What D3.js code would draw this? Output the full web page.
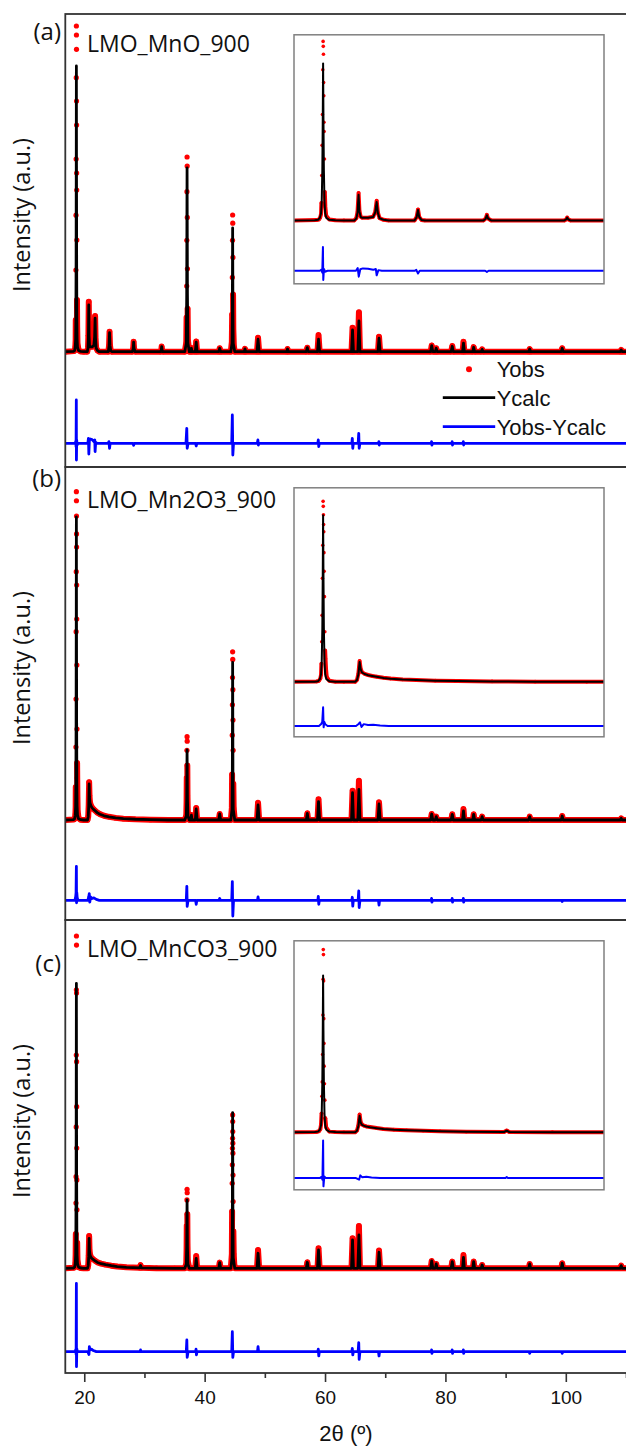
<!DOCTYPE html>
<html>
<head>
<meta charset="utf-8">
<script src="https://cdn.jsdelivr.net/npm/d3@7"></script>
<style>
  body { margin: 0; background: #fff; }
  svg { display: block; }
</style>
</head>
<body>
<svg id="chart" width="626" height="1446"></svg>
<script>
// ---------- Axis / label text ----------
const xTicks = [20, 40, 60, 80, 100];
const xMinorTicks = [30, 50, 70, 90, 110];
const panelTags = ["(a)", "(b)", "(c)"];
const sampleNames = ["LMO_MnO_900", "LMO_Mn2O3_900", "LMO_MnCO3_900"];
const legendLabels = ["Yobs", "Ycalc", "Yobs-Ycalc"];

// ---------- Intensity ranges and difference-curve offsets (counts) ----------
const intensityRangeA = [-4036, 11820];
const intensityRangeB = [-3300, 11650];
const intensityRangeC = [-3674, 12221];
const diffOffsetA = -3206;
const diffOffsetB = -2650;
const diffOffsetC = -2926;

// ---------- (a) LMO_MnO_900 : [2theta, intensity] ----------
const obsA = [
  [16.85,0],[18.3,20],[18.45,60],[18.52,180],[18.57,410],[18.59,1110],[18.61,2860],[18.63,4780],[18.65,6745],[18.67,9590],[18.69,11400],
  [18.7,11085],[18.71,10584],[18.72,8775],[18.73,7935],[18.74,6255],[18.75,5660],[18.77,3910],[18.79,1810],[18.82,860],[18.87,300],[19.05,60],[19.4,10],[19.9,0],
  [20.5,0],[20.62,140],[20.69,560],[20.75,1750],[20.8,600],[20.87,240],[20.95,170],[21.3,170],[21.6,230],[21.72,560],[21.8,1250],[21.87,500],[21.97,140],[22.2,40],[22.5,0],
  [24.0,0],[24.12,210],[24.2,700],[24.27,230],[24.4,30],[24.6,0],
  [28.0,0],[28.13,120],[28.2,350],[28.27,120],[28.45,0],
  [32.7,0],[32.8,60],[32.86,180],[32.93,60],[33.05,0],
  [36.7,0],[36.95,320],[37.0,1200],[37.02,2300],[37.04,3900],[37.06,5600],[37.08,6815],[37.1,6500],[37.12,4700],[37.14,2900],[37.17,1500],[37.22,400],[37.45,0],
  [37.7,0],[37.8,130],[37.9,0],
  [38.45,0],[38.6,360],[38.75,0],
  [42.35,0],[42.5,120],[42.65,0],
  [44.35,0],[44.52,350],[44.57,1300],[44.6,2600],[44.63,3900],[44.65,4785],[44.67,4500],[44.7,3300],[44.72,2000],[44.76,800],[44.85,200],[45.0,0],
  [46.6,0],[46.7,100],[46.8,0],
  [48.7,0],[48.87,490],[49.05,0],
  [53.65,0],[53.77,95],[53.9,0],
  [56.9,0],[57.06,140],[57.2,0],
  [58.75,0],[58.92,585],[59.1,0],
  [64.4,0],[64.57,840],[64.72,0],
  [65.45,0],[65.63,1380],[65.8,0],
  [68.8,0],[68.97,525],[69.15,0],
  [77.55,0],[77.72,220],[77.9,0],[78.32,0],[78.47,120],[78.62,0],
  [80.95,0],[81.14,200],[81.3,0],
  [82.85,0],[83.0,350],[83.15,0],
  [84.55,0],[84.69,160],[84.85,0],
  [85.95,0],[86.1,80],[86.25,0],
  [93.85,0],[94.0,95],[94.15,0],
  [99.25,0],[99.4,120],[99.55,0],
  [109.05,0],[109.2,60],[109.35,0],[110,0]
];
const calcA = [
  [16.85,0],[18.2,10],[18.4,40],[18.5,160],[18.57,450],[18.61,1200],[18.645,3200],[18.67,6500],[18.69,10000],[18.71,6500],[18.735,3200],[18.77,1200],[18.81,450],[18.88,160],[19.05,40],[19.4,10],[19.9,0],
  [20.5,0],[20.62,120],[20.69,500],[20.75,1635],[20.8,560],[20.87,230],[20.95,170],[21.3,170],[21.6,220],[21.72,520],[21.8,1170],[21.87,480],[21.97,130],[22.2,40],[22.5,0],
  [24.0,0],[24.12,200],[24.2,665],[24.27,220],[24.4,30],[24.6,0],
  [28.0,0],[28.13,110],[28.2,330],[28.27,110],[28.45,0],
  [32.7,0],[32.8,60],[32.86,175],[32.93,60],[33.05,0],
  [36.7,0],[36.95,300],[37.02,2000],[37.08,6430],[37.14,2000],[37.22,300],[37.45,0],
  [37.7,0],[37.8,120],[37.9,0],
  [38.45,0],[38.6,330],[38.75,0],
  [42.35,0],[42.5,120],[42.65,0],
  [44.35,0],[44.55,300],[44.6,1400],[44.65,4330],[44.7,1400],[44.75,300],[45.0,0],
  [46.6,0],[46.7,100],[46.8,0],
  [48.7,0],[48.87,435],[49.05,0],
  [53.65,0],[53.77,95],[53.9,0],
  [56.9,0],[57.06,140],[57.2,0],
  [58.75,0],[58.92,435],[59.1,0],
  [64.4,0],[64.57,760],[64.72,0],
  [65.45,0],[65.63,1075],[65.8,0],
  [68.8,0],[68.97,470],[69.15,0],
  [77.55,0],[77.72,210],[77.9,0],[78.32,0],[78.47,120],[78.62,0],
  [80.95,0],[81.14,190],[81.3,0],
  [82.85,0],[83.0,295],[83.15,0],
  [84.55,0],[84.69,155],[84.85,0],
  [85.95,0],[86.1,80],[86.25,0],
  [93.85,0],[94.0,95],[94.15,0],
  [99.25,0],[99.4,120],[99.55,0],
  [109.05,0],[109.2,60],[109.35,0],[110,0]
];
const diffA = [
  [16.85,0],[18.5,0],[18.6,80],[18.64,-120],[18.68,1515],[18.7,-585],[18.74,120],[18.8,-60],[18.95,0],
  [20.6,0],[20.7,175],[20.76,-375],[20.85,100],[21.0,150],[21.3,130],[21.6,60],[21.75,115],[21.8,-290],[21.9,40],[22.1,0],
  [24.0,0],[24.1,60],[24.2,-175],[24.3,0],
  [28.1,0],[28.2,-70],[28.3,0],
  [36.9,0],[37.03,525],[37.1,-175],[37.25,0],
  [38.5,0],[38.6,-95],[38.7,0],
  [44.5,0],[44.6,990],[44.68,-410],[44.8,0],
  [48.75,0],[48.85,115],[48.92,-60],[49.0,0],
  [58.8,0],[58.88,115],[58.96,-115],[59.05,0],
  [64.45,0],[64.53,175],[64.61,-175],[64.7,0],
  [65.5,0],[65.6,350],[65.67,-175],[65.8,0],
  [68.9,0],[68.95,60],[69.0,-60],[69.1,0],
  [77.65,0],[77.7,60],[77.76,-60],[77.85,0],
  [81.08,0],[81.12,60],[81.18,-60],[81.25,0],
  [82.93,0],[82.98,60],[83.03,-60],[83.1,0],
  [110,0]
];

// ---------- (b) LMO_Mn2O3_900 ----------
const obsB = [
  [16.85,0],[18.3,20],[18.45,60],[18.53,200],[18.57,429],[18.59,1089],[18.61,2409],[18.63,3993],[18.65,6214],[18.67,8195],[18.69,10835],
  [18.7,10537],[18.71,10032],[18.72,9440],[18.73,9010],[18.74,7755],[18.75,6633],[18.77,5115],[18.79,3003],[18.81,1881],[18.83,1386],[18.86,759],[18.9,300],[19.05,60],[19.4,10],[19.9,0],
  [20.55,0],[20.66,120],[20.74,500],[20.81,1250],[20.87,790],[20.95,580],[21.1,480],[21.3,410],[21.55,355],[21.8,310],[22.2,240],[22.6,195],[23.3,140],[24.1,105],[25.2,70],[26.5,45],[28.5,25],[31,12],[34,0],
  [36.7,0],[36.95,150],[37.0,600],[37.03,1400],[37.06,2300],[37.08,2750],[37.1,2600],[37.12,1800],[37.15,800],[37.2,250],[37.45,0],
  [37.7,0],[37.8,165],[37.9,0],
  [38.45,0],[38.6,400],[38.75,0],
  [42.35,0],[42.5,200],[42.65,0],
  [44.35,0],[44.52,400],[44.56,1500],[44.59,2800],[44.61,3800],[44.63,4700],[44.65,5550],[44.67,5300],[44.69,4300],[44.71,3300],[44.73,2300],[44.76,1200],[44.82,400],[45.0,0],
  [48.7,0],[48.87,570],[49.05,0],
  [56.9,0],[57.06,220],[57.2,0],
  [58.75,0],[58.92,683],[59.1,0],
  [64.4,0],[64.57,967],[64.72,0],
  [65.45,0],[65.63,1297],[65.8,0],
  [68.8,0],[68.97,584],[69.15,0],
  [77.55,0],[77.72,200],[77.9,0],[78.32,0],[78.47,110],[78.62,0],
  [80.95,0],[81.14,190],[81.3,0],
  [82.85,0],[83.0,363],[83.15,0],
  [84.55,0],[84.69,190],[84.85,0],
  [85.95,0],[86.1,110],[86.25,0],
  [93.85,0],[94.0,110],[94.15,0],
  [99.25,0],[99.4,132],[99.55,0],
  [109.05,0],[109.2,56],[109.35,0],[110,0]
];
const calcB = [
  [16.85,0],[18.2,10],[18.4,40],[18.5,160],[18.57,450],[18.61,1200],[18.645,3200],[18.67,6500],[18.69,10000],[18.71,6500],[18.735,3200],[18.77,1200],[18.81,450],[18.88,160],[19.05,40],[19.4,10],[19.9,0],
  [20.55,0],[20.66,110],[20.74,450],[20.81,1190],[20.87,760],[20.95,560],[21.1,470],[21.3,400],[21.55,350],[21.8,305],[22.2,235],[22.6,190],[23.3,140],[24.1,105],[25.2,70],[26.5,45],[28.5,25],[31,12],[34,0],
  [36.7,0],[36.95,130],[37.02,700],[37.08,2310],[37.14,700],[37.22,130],[37.45,0],
  [37.7,0],[37.8,160],[37.9,0],
  [38.45,0],[38.6,363],[38.75,0],
  [42.35,0],[42.5,200],[42.65,0],
  [44.35,0],[44.55,350],[44.6,1600],[44.65,5200],[44.7,1600],[44.75,350],[45.0,0],
  [48.7,0],[48.87,495],[49.05,0],
  [56.9,0],[57.06,220],[57.2,0],
  [58.75,0],[58.92,605],[59.1,0],
  [64.4,0],[64.57,900],[64.72,0],
  [65.45,0],[65.63,1013],[65.8,0],
  [68.8,0],[68.97,528],[69.15,0],
  [77.55,0],[77.72,198],[77.9,0],[78.32,0],[78.47,110],[78.62,0],
  [80.95,0],[81.14,188],[81.3,0],
  [82.85,0],[83.0,297],[83.15,0],
  [84.55,0],[84.69,188],[84.85,0],
  [85.95,0],[86.1,110],[86.25,0],
  [93.85,0],[94.0,110],[94.15,0],
  [99.25,0],[99.4,132],[99.55,0],
  [109.05,0],[109.2,56],[109.35,0],[110,0]
];
const diffB = [
  [16.85,0],[18.45,0],[18.58,120],[18.64,250],[18.69,1120],[18.72,-80],[18.76,250],[18.82,100],[18.95,0],
  [20.6,0],[20.75,120],[20.83,220],[20.92,-60],[21.05,110],[21.3,60],[21.6,80],[22.0,30],[22.5,0],
  [36.95,0],[37.04,460],[37.1,-200],[37.25,0],
  [38.5,0],[38.6,-130],[38.7,0],
  [42.4,0],[42.5,60],[42.6,0],
  [44.5,0],[44.6,617],[44.68,-518],[44.8,0],
  [48.78,0],[48.87,110],[48.96,0],
  [58.8,0],[58.88,130],[58.96,-130],[59.05,0],
  [64.45,0],[64.53,100],[64.61,-190],[64.7,0],
  [65.5,0],[65.6,307],[65.67,-240],[65.8,0],
  [68.88,0],[68.97,-155],[69.06,0],
  [77.65,0],[77.7,60],[77.76,-60],[77.85,0],
  [81.08,0],[81.12,60],[81.18,-60],[81.25,0],
  [82.93,0],[82.98,60],[83.03,-60],[83.1,0],
  [99.32,0],[99.4,-40],[99.48,0],
  [110,0]
];

// ---------- (c) LMO_MnCO3_900 ----------
const obsC = [
  [16.85,0],[18.3,20],[18.45,60],[18.53,200],[18.57,500],[18.6,1200],[18.62,2290],[18.64,3215],[18.66,4960],[18.68,7480],[18.69,9770],[18.7,11660],
  [18.71,11340],[18.72,9660],[18.73,7250],[18.74,5670],[18.75,4220],[18.77,3100],[18.79,2050],[18.82,900],[18.87,300],[19.05,40],[19.4,10],[19.9,0],
  [20.55,0],[20.66,110],[20.74,450],[20.81,1134],[20.87,660],[20.95,490],[21.05,430],[21.2,370],[21.41,330],[21.8,265],[22.19,210],[22.8,165],[23.54,128],[24.5,92],[25.48,64],[27,36],[29.2,16],[29.35,110],[29.5,16],[32,5],[35,0],
  [36.7,0],[36.95,160],[37.0,650],[37.03,1500],[37.06,2400],[37.08,2773],[37.1,2650],[37.12,1900],[37.15,850],[37.2,260],[37.45,0],
  [38.45,0],[38.6,432],[38.75,0],
  [42.35,0],[42.5,200],[42.65,0],
  [44.35,0],[44.52,500],[44.56,1990],[44.58,2980],[44.6,3630],[44.62,4210],[44.64,4560],[44.65,5380],
  [44.66,5150],[44.67,4800],[44.68,4390],[44.69,4040],[44.71,3270],[44.73,2340],[44.77,1300],[44.83,500],[44.92,150],[45.05,0],
  [48.7,0],[48.87,642],[49.05,0],
  [56.9,0],[57.06,211],[57.2,0],
  [58.75,0],[58.92,702],[59.1,0],
  [64.4,0],[64.57,1053],[64.72,0],
  [65.45,0],[65.63,1485],[65.8,0],
  [68.8,0],[68.97,621],[69.15,0],
  [77.55,0],[77.72,256],[77.9,0],[78.32,0],[78.47,151],[78.62,0],
  [80.95,0],[81.14,235],[81.3,0],
  [82.85,0],[83.0,467],[83.15,0],
  [84.55,0],[84.69,235],[84.85,0],
  [85.95,0],[86.1,116],[86.25,0],
  [93.85,0],[94.0,151],[94.15,0],
  [99.25,0],[99.4,176],[99.55,0],
  [109.05,0],[109.2,95],[109.35,0],[110,0]
];
const calcC = [
  [16.85,0],[18.2,10],[18.4,40],[18.5,160],[18.57,450],[18.61,1200],[18.645,3200],[18.67,6500],[18.69,10000],[18.71,6500],[18.735,3200],[18.77,1200],[18.81,450],[18.88,160],[19.05,40],[19.4,10],[19.9,0],
  [20.55,0],[20.66,100],[20.74,400],[20.81,1050],[20.87,620],[20.95,470],[21.05,420],[21.2,360],[21.41,320],[21.8,260],[22.19,205],[22.8,160],[23.54,125],[24.5,90],[25.48,62],[27,35],[29.2,15],[29.35,100],[29.5,15],[32,5],[35,0],
  [36.7,0],[36.95,140],[37.02,750],[37.08,2397],[37.14,750],[37.22,140],[37.45,0],
  [38.45,0],[38.6,351],[38.75,0],
  [42.35,0],[42.5,200],[42.65,0],
  [44.35,0],[44.55,370],[44.6,1700],[44.65,5462],[44.7,1700],[44.75,370],[45.0,0],
  [48.7,0],[48.87,527],[49.05,0],
  [56.9,0],[57.06,211],[57.2,0],
  [58.75,0],[58.92,642],[59.1,0],
  [64.4,0],[64.57,993],[64.72,0],
  [65.45,0],[65.63,1169],[65.8,0],
  [68.8,0],[68.97,562],[69.15,0],
  [77.55,0],[77.72,256],[77.9,0],[78.32,0],[78.47,151],[78.62,0],
  [80.95,0],[81.14,235],[81.3,0],
  [82.85,0],[83.0,386],[83.15,0],
  [84.55,0],[84.69,235],[84.85,0],
  [85.95,0],[86.1,116],[86.25,0],
  [93.85,0],[94.0,151],[94.15,0],
  [99.25,0],[99.4,176],[99.55,0],
  [109.05,0],[109.2,95],[109.35,0],[110,0]
];
const diffC = [
  [16.85,0],[18.5,0],[18.6,80],[18.65,-100],[18.69,2400],[18.71,-527],[18.76,100],[18.85,0],
  [20.6,0],[20.78,-100],[20.85,175],[20.95,60],[21.2,90],[21.5,40],[22,0],
  [29.28,0],[29.35,60],[29.42,0],
  [36.95,0],[37.04,410],[37.1,-200],[37.25,0],
  [38.5,0],[38.57,90],[38.64,-110],[38.72,0],
  [44.5,0],[44.6,702],[44.68,-200],[44.8,0],
  [48.78,0],[48.87,175],[48.96,0],
  [58.8,0],[58.88,90],[58.96,-150],[59.05,0],
  [64.45,0],[64.53,115],[64.61,-115],[64.7,0],
  [65.5,0],[65.6,316],[65.67,-270],[65.8,0],
  [68.88,0],[68.97,-150],[69.06,0],
  [77.65,0],[77.7,60],[77.76,-60],[77.85,0],
  [81.08,0],[81.12,60],[81.18,-60],[81.25,0],
  [82.93,0],[82.98,60],[83.03,-60],[83.1,0],
  [93.92,0],[94.0,-60],[94.08,0],
  [99.32,0],[99.4,-60],[99.48,0],
  [110,0]
];

// ---------- Layout ----------
const RED = "#ff0000", BLACK = "#000000", BLUE = "#0000ff";
const frameLeft = 65.3, frameRight = 632;
const panelTops = [14, 467, 920];
const panelH = 453;
const insetBox = { left: 294, right: 604, dy: 20.8, h: 249 };
const bandCeiling = 2000; // observed points above this are drawn as separate dots only

const panels = [
  { obs: obsA, calc: calcA, diff: diffA, range: intensityRangeA, offset: diffOffsetA },
  { obs: obsB, calc: calcB, diff: diffB, range: intensityRangeB, offset: diffOffsetB },
  { obs: obsC, calc: calcC, diff: diffC, range: intensityRangeC, offset: diffOffsetC }
];

const svg = d3.select("#chart");
const x = d3.scaleLinear().domain([16.85, 110]).range([frameLeft, 626]);
const xInset = d3.scaleLinear().domain([17, 35]).range([insetBox.left, insetBox.right]);

function drawPattern(g, xs, ys, p, st, xDomain) {
  const inView = d => d[0] >= xDomain[0] - 0.5 && d[0] <= xDomain[1] + 0.5;
  const band = d3.line().defined(d => d[1] <= bandCeiling).x(d => xs(d[0])).y(d => ys(d[1]));
  const line = d3.line().x(d => xs(d[0])).y(d => ys(d[1]));
  const diffLine = d3.line().x(d => xs(d[0])).y(d => ys(d[1] + p.offset));

  // Yobs: dense trace plus individual points
  g.append("path").datum(p.obs).attr("d", band)
    .attr("fill", "none").attr("stroke", RED)
    .attr("stroke-width", st.band).attr("stroke-linejoin", "round").attr("stroke-linecap", "round");
  g.append("g").selectAll("circle").data(p.obs.filter(inView)).join("circle")
    .attr("cx", d => xs(d[0])).attr("cy", d => ys(d[1])).attr("r", st.dot).attr("fill", RED);

  // Ycalc
  g.append("path").datum(p.calc).attr("d", line)
    .attr("fill", "none").attr("stroke", BLACK)
    .attr("stroke-width", st.calc).attr("stroke-linejoin", "round");

  // Yobs - Ycalc
  g.append("path").datum(p.diff).attr("d", diffLine)
    .attr("fill", "none").attr("stroke", BLUE)
    .attr("stroke-width", st.diff).attr("stroke-linejoin", "round");
}

const defs = svg.append("defs");

panels.forEach((p, i) => {
  const top = panelTops[i];
  const y = d3.scaleLinear().domain(p.range).range([top + panelH, top]);

  defs.append("clipPath").attr("id", "clip-main-" + i)
    .append("rect").attr("x", frameLeft).attr("y", top).attr("width", 626 - frameLeft).attr("height", panelH);
  const g = svg.append("g").attr("clip-path", `url(#clip-main-${i})`);
  drawPattern(g, x, y, p, { band: 6, dot: 2.6, calc: 2.8, diff: 2.8 }, x.domain());

  // Inset: low-angle region of the same pattern
  const iTop = top + insetBox.dy;
  const yIn = d3.scaleLinear().domain(p.range).range([iTop + insetBox.h, iTop]);
  svg.append("rect").attr("x", insetBox.left).attr("y", iTop)
    .attr("width", insetBox.right - insetBox.left).attr("height", insetBox.h).attr("fill", "#fff");
  defs.append("clipPath").attr("id", "clip-inset-" + i)
    .append("rect").attr("x", insetBox.left).attr("y", iTop)
    .attr("width", insetBox.right - insetBox.left).attr("height", insetBox.h);
  const gi = svg.append("g").attr("clip-path", `url(#clip-inset-${i})`);
  drawPattern(gi, xInset, yIn, p, { band: 4, dot: 1.8, calc: 2, diff: 2 }, xInset.domain());
  svg.append("rect").attr("x", insetBox.left).attr("y", iTop)
    .attr("width", insetBox.right - insetBox.left).attr("height", insetBox.h)
    .attr("fill", "none").attr("stroke", "#808080").attr("stroke-width", 1.5);

  // Panel frame
  svg.append("rect").attr("x", frameLeft).attr("y", top)
    .attr("width", frameRight - frameLeft).attr("height", panelH)
    .attr("fill", "none").attr("stroke", "#333").attr("stroke-width", 1.8);

  // Panel tag, sample name, y label
  svg.append("text").attr("x", 61).attr("y", [40, 487, 971.5][i])
    .attr("text-anchor", "end").attr("font-family", "Open Sans").attr("font-size", 24)
    .attr("fill", "#111").text(panelTags[i]);
  svg.append("text").attr("x", 87).attr("y", [52, 508, 957][i])
    .attr("font-family", "Open Sans").attr("font-size", 23)
    .attr("fill", "#111").text(sampleNames[i]);
  svg.append("text").attr("transform", `translate(30,${top + 201}) rotate(-90)`)
    .attr("text-anchor", "middle").attr("font-family", "Open Sans").attr("font-size", 23.5)
    .attr("fill", "#111").text("Intensity (a.u.)");
});

// ---------- Legend (panel a) ----------
const lg = svg.append("g").attr("font-family", "Liberation Sans, Arial, sans-serif").attr("font-size", 22).attr("fill", "#111");
lg.append("circle").attr("cx", 469).attr("cy", 369.3).attr("r", 3).attr("fill", RED);
lg.append("text").attr("x", 496.7).attr("y", 377).text(legendLabels[0]);
lg.append("line").attr("x1", 442.8).attr("x2", 495.2).attr("y1", 397.7).attr("y2", 397.7)
  .attr("stroke", BLACK).attr("stroke-width", 2.8);
lg.append("text").attr("x", 496.7).attr("y", 405.5).text(legendLabels[1]);
lg.append("line").attr("x1", 442.8).attr("x2", 495.2).attr("y1", 426.7).attr("y2", 426.7)
  .attr("stroke", BLUE).attr("stroke-width", 2.8);
lg.append("text").attr("x", 496.7).attr("y", 434.5).text(legendLabels[2]);

// ---------- Bottom axis ----------
const axisY = panelTops[2] + panelH;
const major = svg.append("g").attr("transform", `translate(0,${axisY})`)
  .call(d3.axisBottom(x).tickValues(xTicks).tickSize(9).tickPadding(8.5).tickFormat(d3.format("d")));
major.select(".domain").remove();
major.selectAll("line").attr("stroke", "#333").attr("stroke-width", 1.6);
major.selectAll("text").attr("font-family", "Liberation Sans, Arial, sans-serif").attr("font-size", 19).attr("fill", "#111");
const minor = svg.append("g").attr("transform", `translate(0,${axisY})`)
  .call(d3.axisBottom(x).tickValues(xMinorTicks).tickSize(5).tickFormat(""));
minor.select(".domain").remove();
minor.selectAll("line").attr("stroke", "#333").attr("stroke-width", 1.6);

svg.append("text").attr("x", 346).attr("y", 1441).attr("text-anchor", "middle")
  .attr("font-family", "Liberation Sans, Arial, sans-serif").attr("font-size", 22).attr("fill", "#111")
  .text("2θ (º)");
</script>
</body>
</html>
